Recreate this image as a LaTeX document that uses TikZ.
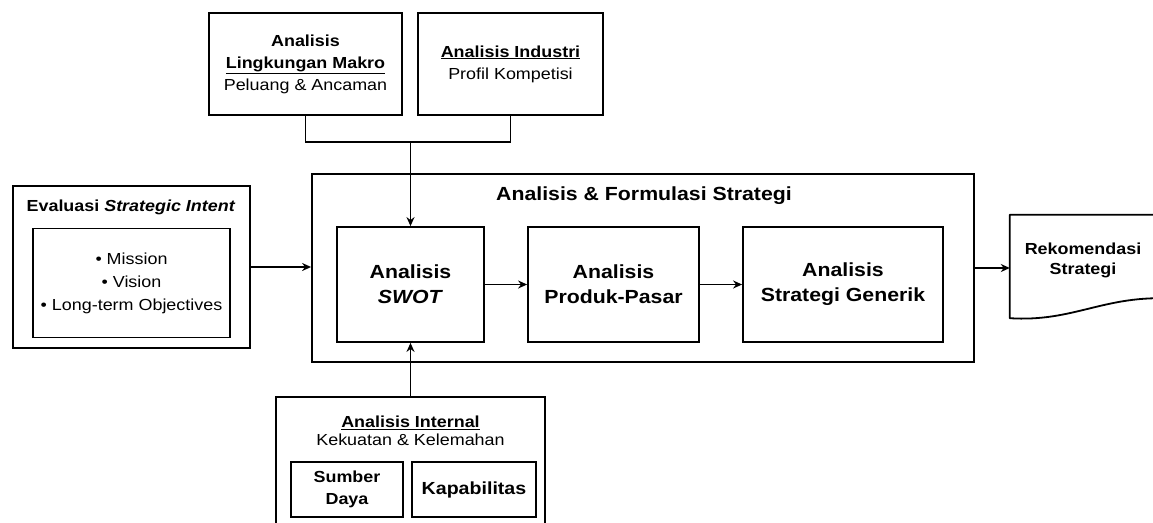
\documentclass[tikz,border=0pt]{standalone}
\usepackage{fontspec}
\setmainfont{Liberation Sans}[FakeStretch=1.12]
\usetikzlibrary{arrows.meta}
\newcommand\fsz[2]{\fontsize{#1}{#2}\selectfont}
\begin{document}
\begin{tikzpicture}[x=1pt,y=-1pt,
  frame/.style={draw=black, line width=1.8pt, rectangle, inner sep=0pt, align=center},
  txt/.style={inner sep=0pt, align=center},
  wire/.style={line width=1.8pt},
  link/.style={wire, -{Stealth[length=9pt,width=8pt]}},
  big/.style={font=\fsz{19}{25}\bfseries},
]
\useasboundingbox (0,0) rectangle (1153,522);
\clip (0,0) rectangle (1153,522);
\fill[white] (0,0) rectangle (1153,522);

% external analysis boxes (top)
\node[frame, minimum width=193pt, minimum height=102pt, font=\fsz{16}{22}] (makro) at (305.5,64)
  {\textbf{Analisis}\\\textbf{\underline{Lingkungan Makro}}\\Peluang \& Ancaman};
\node[frame, minimum width=185pt, minimum height=102pt, font=\fsz{16}{22}] (industri) at (510.5,64)
  {\textbf{\underline{Analisis Industri}}\\Profil Kompetisi};

% strategy formulation frame
\node[frame, minimum width=662pt, minimum height=188pt] (main) at (643,268) {};
\node[txt, big] (title) at (644,196) {Analisis \& Formulasi Strategi};
\node[frame, big, minimum width=147pt, minimum height=115pt] (swot) at (410.5,284.5) {Analisis\\\textit{SWOT}};
\node[frame, big, minimum width=171pt, minimum height=115pt] (produk) at (613.5,284.5) {Analisis\\Produk-Pasar};
\node[frame, big, minimum width=200pt, minimum height=115pt] (generik) at (843,284.5) {Analisis\\Strategi Generik};

% strategic intent
\node[frame, minimum width=237pt, minimum height=162pt] (eval) at (131.5,267) {};
\node[txt, font=\fsz{16}{20}\bfseries] (evaltitle) at (131,207) {Evaluasi \textit{Strategic Intent}};
\node[frame, minimum width=197pt, minimum height=109pt, font=\fsz{16}{23}] (intent) at (131.5,283)
  {• Mission\\• Vision\\• Long-term Objectives};

% recommendation document
\node[minimum width=150pt, minimum height=103pt, inner sep=0pt] (rekom) at (1085,266.5) {};
\draw[wire, line join=round] (rekom.south west) -- (rekom.north west) -- (rekom.north east)
  -- ([yshift=20pt]rekom.south east)
  .. controls (1100,298) and (1070,322) .. (rekom.south west) -- cycle;
\node[txt, font=\fsz{16}{20}\bfseries] (rekomtext) at (1083,260) {Rekomendasi\\Strategi};

% internal analysis
\node[frame, minimum width=269pt, minimum height=143pt] (internal) at (410.5,468.5) {};
\node[txt, font=\fsz{16}{18}] (inttitle) at (410.5,431) {\textbf{\underline{Analisis Internal}}\\Kekuatan \& Kelemahan};
\node[frame, font=\fsz{16}{22}\bfseries, minimum width=112pt, minimum height=55pt] (sumber) at (347,489.5) {Sumber\\Daya};
\node[frame, font=\fsz{17.5}{22}\bfseries, minimum width=124pt, minimum height=55pt] (kapab) at (474,489.5) {Kapabilitas};

% connectors
\coordinate (j) at (410.5,142);
\draw[wire] (makro.south) -- (makro.south |- j) -- (industri.south |- j) -- (industri.south);
\draw[link] (j) -- (swot.north);
\draw[link] (eval.east) -- (eval.east -| main.west);
\draw[link] (swot.east) -- (produk.west);
\draw[link] (produk.east) -- (generik.west);
\draw[link] (main.east) -- (main.east -| rekom.west);
\draw[link] (internal.north) -- (swot.south);
\end{tikzpicture}
\end{document}
